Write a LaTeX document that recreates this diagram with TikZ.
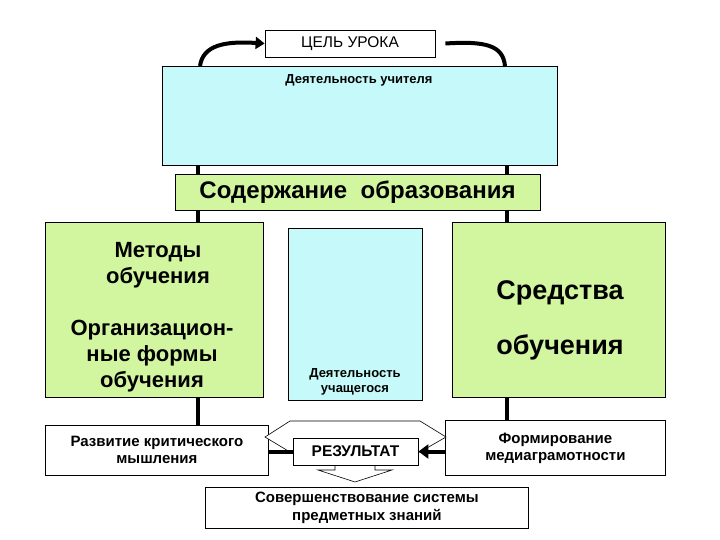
\documentclass[tikz,border=0pt]{standalone}
\usepackage{fontspec}
\setmainfont{Liberation Sans}
\usetikzlibrary{arrows.meta}
\definecolor{lcyan}{HTML}{C6FAFA}
\definecolor{lgreen}{HTML}{D2F5A0}
\tikzset{box/.style={draw=black,line width=0.8pt,inner sep=0pt,font=\bfseries},
 thick line/.style={line width=4pt}}
\begin{document}
\begin{tikzpicture}[x=1pt,y=-1pt]
\useasboundingbox (0,0) rectangle (720,540);
% vertical bars
\draw[thick line] (198,165) -- (198,425);
\draw[thick line] (507,165) -- (507,420);
\node[box,fill=white,minimum width=170,minimum height=27,font=\fontsize{15.5}{18}\selectfont] (goal) at (350,43.5) {ЦЕЛЬ УРОКА};
\node[box,fill=lcyan,minimum width=395,minimum height=99,anchor=north west] (teacher) at (162,66) {};
\node[font=\bfseries\fontsize{13}{15}\selectfont] (tt) at (359,80) {Деятельность учителя};
\draw[line width=4pt,-{Triangle[length=9pt,width=12pt]}] (200,66) .. controls (203,45) and (225,41) .. (goal.west);
\draw[line width=4pt] (goal.east)+(10,0) coordinate (ge) (ge) .. controls (485,41) and (503,45) .. (505,66);
\node[box,fill=lgreen,minimum width=365,minimum height=36,font=\bfseries\fontsize{24}{28}\selectfont] (content) at (357.5,192) {Содержание\ \ образования};
\node[box,fill=lgreen,minimum width=218,minimum height=175,anchor=north west] (methods) at (45,222) {};
\node[font=\bfseries\fontsize{22}{26}\selectfont,align=center] (m1) at (158,265) {Методы\\обучения};
\node[font=\bfseries\fontsize{22}{26}\selectfont,align=center] (m2) at (152,356) {Организацион-\\ные формы\\обучения};
\node[box,fill=lcyan,minimum width=134,minimum height=172,anchor=north west] (pupil) at (288,228) {};
\node[font=\bfseries\fontsize{13}{15}\selectfont,align=center] (pt) at (355,382) {Деятельность\\учащегося};
\node[box,fill=lgreen,minimum width=213,minimum height=175,anchor=north west] (means) at (452,222) {};
\node[font=\bfseries\fontsize{27}{31}\selectfont] (s1) at (560,293) {Средства};
\node[font=\bfseries\fontsize{27}{31}\selectfont] (s2) at (560,347) {обучения};
\node[box,fill=white,minimum width=223,minimum height=50,anchor=north west,align=center,font=\bfseries\fontsize{15}{17}\selectfont] (crit) at (45,425) {Развитие критического\\мышления};
\node[box,fill=white,minimum width=220,minimum height=55,anchor=north west,align=center,font=\bfseries\fontsize{15}{17}\selectfont] (media) at (445,420) {Формирование\\медиаграмотности};
\node[box,fill=white,minimum width=323,minimum height=41,anchor=north west,align=center,font=\bfseries\fontsize{15}{18}\selectfont] (improve) at (205,487) {Совершенствование системы\\предметных знаний};
% hollow arrows
\draw[fill=white,line width=0.6pt] (265,437) -- (290,421) -- (420,421) -- (446,437) -- (420,452) -- (290,452) -- cycle;
\draw[fill=white,line width=0.6pt] (320,460) -- (335,460) -- (335,470) -- (318,470) -- (355,482) -- (392,470) -- (375,470) -- (375,460) -- (390,460) -- (390,465) -- (320,465) -- cycle;
\node[box,fill=white,minimum width=125,minimum height=27,font=\fontsize{15.5}{18}\selectfont\bfseries] (res) at (355.5,451.5) {РЕЗУЛЬТАТ};
\draw[thick line] (crit.east|-res) -- (res.west);
\draw[thick line,-{Triangle[length=10pt,width=14pt]}] (media.west|-res) -- (res.east);
\end{tikzpicture}
\end{document}
